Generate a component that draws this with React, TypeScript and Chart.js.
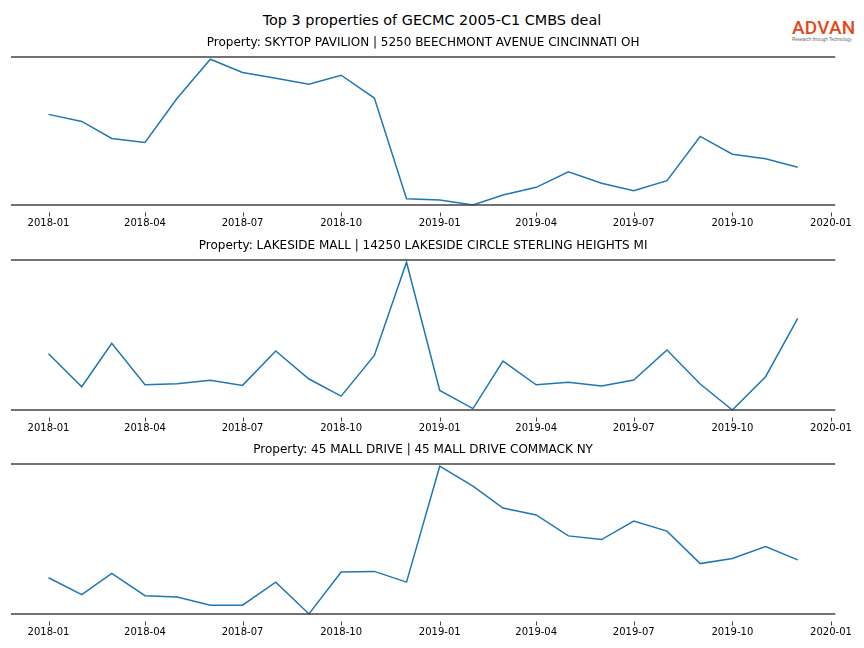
import React, { useEffect, useRef } from "react";
import { Chart, registerables } from "chart.js";

Chart.register(...registerables);

// ---------- data ----------
const MONTHS = [
  "2018-01", "2018-02", "2018-03", "2018-04", "2018-05", "2018-06",
  "2018-07", "2018-08", "2018-09", "2018-10", "2018-11", "2018-12",
  "2019-01", "2019-02", "2019-03", "2019-04", "2019-05", "2019-06",
  "2019-07", "2019-08", "2019-09", "2019-10", "2019-11", "2019-12",
];
const TICK_LABELS = [
  "2018-01", "2018-04", "2018-07", "2018-10",
  "2019-01", "2019-04", "2019-07", "2019-10", "2020-01",
];
const X_START = "2017-11-27";
const X_END = "2020-01-05";

const SUPTITLE = "Top 3 properties of GECMC 2005-C1 CMBS deal";
const TITLES = [
  "Property: SKYTOP PAVILION | 5250 BEECHMONT AVENUE CINCINNATI OH",
  "Property: LAKESIDE MALL | 14250 LAKESIDE CIRCLE STERLING HEIGHTS MI",
  "Property: 45 MALL DRIVE | 45 MALL DRIVE COMMACK NY",
];

const SKYTOP = [
  90.7, 83.7, 66.7, 62.7, 106.7, 145.7, 132.4, 126.7, 120.7, 129.7, 107, 6.7,
  5.4, 0.4, 10.4, 18, 33.4, 22, 14.7, 24.7, 68.7, 51, 46.4, 38,
];
const LAKESIDE = [
  57, 24.3, 67.3, 26.3, 27.3, 30.7, 25.7, 59.7, 32, 15, 55.3, 147.7,
  20.7, 2.7, 49.7, 26.3, 28.7, 25, 31, 60.7, 27, 1.3, 34.3, 92,
];
const COMMACK = [
  37, 20.3, 41.3, 19.3, 18, 10, 10, 32.7, 1.3, 42.7, 43.3, 32.7,
  147, 127.3, 105.7, 99, 78.3, 74.7, 93, 83, 51, 56, 67.7, 54.7,
];

const SERIES = [SKYTOP, LAKESIDE, COMMACK];

// ---------- helpers ----------
const BASE = Date.UTC(2018, 0, 1);
function dayOf(s: string): number {
  const p = s.split("-").map(Number);
  return (Date.UTC(p[0], p[1] - 1, p[2] || 1) - BASE) / 86400000;
}

const FONT = '"DejaVu Sans", sans-serif';
const SPINE_TOPS = [57, 260, 464];
const AREA_HS = [148, 150, 150];
const PAD_TOP = 30;
const AXIS_H = 36;
const CANVAS_H = 222;

const framePlugin = {
  id: "frame",
  afterDraw(chart: any, _args: any, opts: any) {
    const { ctx, chartArea: a, scales } = chart;
    ctx.save();
    // spines
    ctx.strokeStyle = "#444444";
    ctx.lineWidth = 1.5;
    ctx.beginPath();
    ctx.moveTo(a.left, a.top);
    ctx.lineTo(a.right, a.top);
    ctx.moveTo(a.left, a.bottom);
    ctx.lineTo(a.right, a.bottom);
    ctx.stroke();
    // tick marks
    ctx.strokeStyle = "#444444";
    ctx.lineWidth = 1;
    ctx.beginPath();
    for (const t of scales.x.ticks) {
      const x = Math.round(scales.x.getPixelForValue(t.value)) + 0.5;
      ctx.moveTo(x, a.bottom + 7.5);
      ctx.lineTo(x, a.bottom + 11.5);
    }
    ctx.stroke();
    // title
    ctx.fillStyle = "#000000";
    ctx.font = `12px ${FONT}`;
    ctx.textAlign = "center";
    ctx.textBaseline = "middle";
    ctx.fillText(opts.text, (a.left + a.right) / 2, a.top - 14);
    ctx.restore();
  },
};

function Panel({ idx }: { idx: number }) {
  const ref = useRef<HTMLCanvasElement>(null);
  useEffect(() => {
    const values = SERIES[idx];
    const pts = MONTHS.map((m, i) => ({ x: dayOf(m), y: values[i] }));
    const lo = Math.min(...values);
    const hi = Math.max(...values);
    const tickVals = TICK_LABELS.map((t) => dayOf(t));
    const labelMap = new Map<number, string>();
    TICK_LABELS.forEach((t, i) => labelMap.set(tickVals[i], t));
    const padBottom = CANVAS_H - PAD_TOP - AREA_HS[idx] - AXIS_H;
    const chart = new Chart(ref.current as HTMLCanvasElement, {
      type: "line",
      data: {
        datasets: [
          {
            data: pts,
            borderColor: "#1f77b4",
            borderWidth: 1.5,
            pointRadius: 0,
            fill: false,
            tension: 0,
            clip: false as any,
          },
        ],
      },
      options: {
        responsive: false,
        animation: false,
        events: [],
        layout: {
          padding: { top: PAD_TOP, left: 11, right: 28, bottom: padBottom },
        },
        plugins: {
          legend: { display: false },
          tooltip: { enabled: false },
          title: { display: false },
          frame: { text: TITLES[idx] },
        } as any,
        scales: {
          x: {
            type: "linear",
            min: dayOf(X_START),
            max: dayOf(X_END),
            border: { display: false },
            grid: { display: false, drawTicks: false },
            afterBuildTicks: (scale: any) => {
              scale.ticks = tickVals.map((v) => ({ value: v }));
            },
            ticks: {
              autoSkip: false,
              maxRotation: 0,
              padding: 12,
              color: "#000000",
              font: { family: FONT, size: 10 },
              callback: (v: any) => labelMap.get(Number(v)) ?? "",
            },
          },
          y: {
            display: false,
            min: lo,
            max: hi + (hi - lo) * 0.015,
          },
        },
      },
      plugins: [framePlugin],
    });
    return () => chart.destroy();
  }, [idx]);
  return (
    <canvas
      ref={ref}
      width={864}
      height={CANVAS_H}
      style={{
        position: "absolute",
        left: 0,
        top: SPINE_TOPS[idx] - PAD_TOP,
        width: 864,
        height: CANVAS_H,
      }}
    />
  );
}

export default function App() {
  return (
    <div
      style={{
        position: "fixed",
        left: 0,
        top: 0,
        width: 864,
        height: 648,
        background: "#ffffff",
        overflow: "hidden",
      }}
    >
      <div
        style={{
          position: "absolute",
          left: 0,
          top: 11,
          width: 864,
          textAlign: "center",
          fontFamily: FONT,
          fontSize: 14.4,
          lineHeight: "18px",
          color: "#000",
        }}
      >
        {SUPTITLE}
      </div>
      <div
        style={{
          position: "absolute",
          left: 792,
          top: 18,
          width: 72,
          fontFamily: 'Roboto, "Liberation Sans", sans-serif',
          fontWeight: 500,
          color: "#e24a1c",
          fontSize: 19,
          lineHeight: "19px",
          letterSpacing: 0.2,
        }}
      >
        ADVAN
        <div
          style={{
            fontFamily: '"Liberation Sans", sans-serif',
            fontWeight: 400,
            fontSize: 4.5,
            lineHeight: "5px",
            color: "#666",
            letterSpacing: 0,
            whiteSpace: "nowrap",
          }}
        >
          Research through Technology
        </div>
      </div>
      {[0, 1, 2].map((i) => (
        <Panel key={i} idx={i} />
      ))}
    </div>
  );
}
